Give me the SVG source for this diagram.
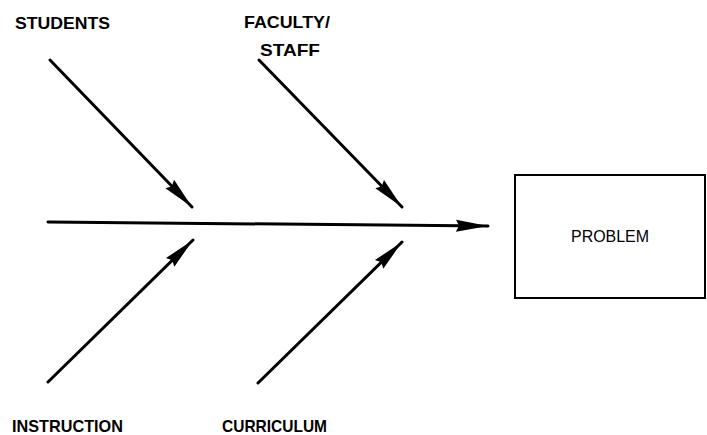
<svg xmlns="http://www.w3.org/2000/svg" width="707" height="435" viewBox="0 0 707 435">
<style>
.lbl{font-family:"Liberation Sans",Arial,sans-serif;font-weight:bold;font-size:17px;fill:#000}
.bone{stroke:#000;stroke-width:3;stroke-linecap:round;fill:none}
</style>
<defs>
<marker id="ah" markerUnits="userSpaceOnUse" markerWidth="32" markerHeight="14" refX="32" refY="7" orient="auto">
<path d="M0,1 L32,7 L0,13 L3,7 Z" fill="#000"/>
</marker>
</defs>
<rect width="707" height="435" fill="#fff"/>
<g id="connectors">
<line class="bone" x1="48" y1="222" x2="488" y2="226" stroke-width="2.5" marker-end="url(#ah)"/>
<line class="bone" x1="50" y1="60" x2="192" y2="207" marker-end="url(#ah)"/>
<line class="bone" x1="259" y1="60" x2="402" y2="207" marker-end="url(#ah)"/>
<line class="bone" x1="48" y1="382" x2="193" y2="240" marker-end="url(#ah)"/>
<line class="bone" x1="258" y1="383" x2="402" y2="242" marker-end="url(#ah)"/>
</g>
<g id="students"><text class="lbl" x="15" y="29" textLength="95" lengthAdjust="spacingAndGlyphs">STUDENTS</text></g>
<g id="faculty">
<text class="lbl" x="244" y="28" textLength="86" lengthAdjust="spacingAndGlyphs">FACULTY/</text>
<text class="lbl" x="260" y="56" textLength="60" lengthAdjust="spacingAndGlyphs">STAFF</text>
</g>
<g id="instruction"><text class="lbl" x="12" y="432" textLength="111" lengthAdjust="spacingAndGlyphs">INSTRUCTION</text></g>
<g id="curriculum"><text class="lbl" x="222" y="432" textLength="105" lengthAdjust="spacingAndGlyphs">CURRICULUM</text></g>
<g id="problem">
<rect x="515" y="175" width="190" height="123" fill="none" stroke="#000" stroke-width="2"/>
<text class="lbl" x="610" y="242" text-anchor="middle" style="font-weight:normal;font-size:16px" textLength="78" lengthAdjust="spacingAndGlyphs">PROBLEM</text>
</g>
</svg>
